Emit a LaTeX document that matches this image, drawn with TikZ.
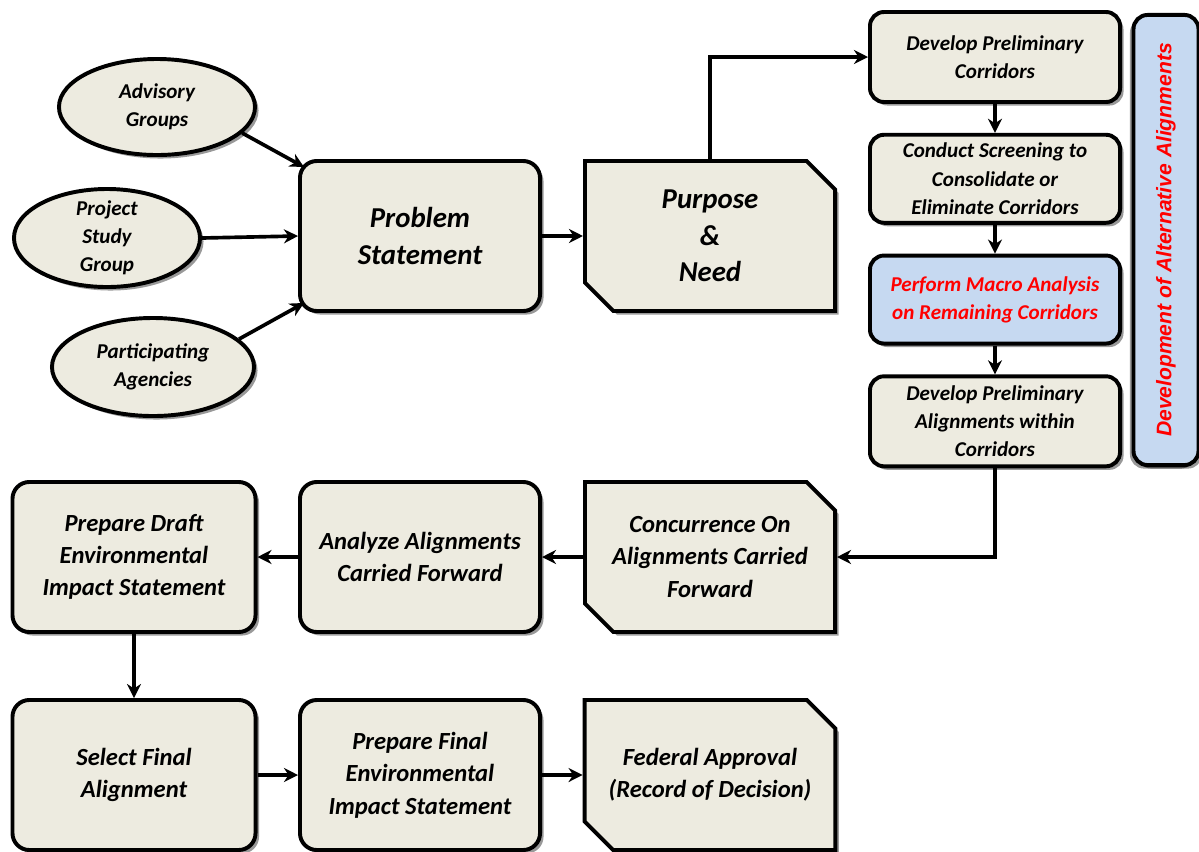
\documentclass[tikz,border=0pt]{standalone}
\usepackage{fontspec}
\setmainfont{Carlito}
\newfontfamily\barfont{Liberation Sans}
\usetikzlibrary{arrows.meta,shapes.geometric,shapes.misc,positioning,shadows,calc}

\definecolor{boxfill}{HTML}{EDEBE0}
\definecolor{macrofill}{HTML}{C6D9F1}
\definecolor{macrored}{HTML}{FF0000}

\begin{document}
\begin{tikzpicture}[
    x=0.025cm,y=-0.025cm,
    base/.style={draw,line width=2.8pt,fill=boxfill,align=center,text=black,
        drop shadow={shadow xshift=2.5pt,shadow yshift=-2.5pt,opacity=0.4,fill=black}},
    bigbox/.style={base,rectangle,rounded corners=12pt,minimum width=6cm,minimum height=3.75cm,
        font=\fontsize{17.5}{23}\selectfont\bfseries\itshape},
    cutbox/.style={base,chamfered rectangle,chamfered rectangle corners={north east,south west},
        chamfered rectangle xsep=0.6cm,inner xsep=0pt,minimum width=6.25cm,minimum height=3.75cm,
        font=\fontsize{17.5}{23}\selectfont\bfseries\itshape},
    stepbox/.style={base,rectangle,rounded corners=10pt,minimum width=6.25cm,minimum height=2.2cm,
        font=\fontsize{15}{20}\selectfont\bfseries\itshape},
    group/.style={base,ellipse,inner xsep=0pt,inner ysep=-10pt,
        font=\fontsize{15}{20}\selectfont\bfseries\itshape},
    arrow/.style={line width=2.6pt,-{Stealth[length=10pt,width=10pt]}}
]
    \useasboundingbox (0,0) rectangle (1199,851);

    % input groups
    \node[group,minimum width=4.9cm,minimum height=2.4cm] (adv) at (157,107) {Advisory\\Groups};
    \node[group,minimum width=4.65cm,minimum height=2.45cm] (psg) at (107,238) {Project\\Study\\Group};
    \node[group,minimum width=5.05cm,minimum height=2.45cm] (agen) at (153,367) {Participating\\Agencies};

    \node[bigbox,font=\fontsize{20.5}{26}\selectfont\bfseries\itshape] (prob) at (420,236) {Problem\\Statement};
    \node[cutbox,font=\fontsize{20.5}{26}\selectfont\bfseries\itshape] (purp) at (710,236) {Purpose\\\&\\Need};

    \draw[arrow] (adv.-17) -- ($(prob.north west)+(6,8)$);
    \draw[arrow] (psg.east) -- (prob.west);
    \draw[arrow] (agen.18) -- ($(prob.south west)+(6,-10)$);
    \draw[arrow] (prob) -- (purp);

    % corridor steps
    \node[stepbox,minimum height=2.25cm] (dpc) at (995,57) {Develop Preliminary\\Corridors};
    \node[stepbox,below=0.72cm of dpc] (scr) {Conduct Screening to\\Consolidate or\\Eliminate Corridors};
    \node[stepbox,below=0.72cm of scr,fill=macrofill,text=macrored] (macro) {Perform Macro Analysis\\on Remaining Corridors};
    \node[stepbox,below=0.72cm of macro,minimum height=2.25cm] (dpa) {Develop Preliminary\\Alignments within\\Corridors};
    \draw[arrow] (purp.north) |- (dpc.west);
    \draw[arrow] (dpc) -- (scr);
    \draw[arrow] (scr) -- (macro);
    \draw[arrow] (macro) -- (dpa);

    \node[base,fill=macrofill,rounded corners=10pt,rotate=90,minimum width=11.25cm,minimum height=1.625cm,
        text=macrored,font=\barfont\fontsize{15}{18}\selectfont\bfseries\itshape,
        drop shadow={shadow xshift=-2.5pt,shadow yshift=-2.5pt,opacity=0.4,fill=black}] (alt) at (1166,240)
        {Development of Alternative Alignments};

    % alignments
    \node[cutbox] (conc) at (710,557) {Concurrence On\\Alignments Carried\\Forward};
    \node[bigbox] (anal) at (420,557) {Analyze Alignments\\Carried Forward};
    \node[bigbox,minimum width=6.075cm] (draft) at (134,557) {Prepare Draft\\Environmental\\Impact Statement};
    \draw[arrow] (dpa.south) |- (conc.east);
    \draw[arrow] (conc) -- (anal);
    \draw[arrow] (anal) -- (draft);

    % final steps
    \node[bigbox,minimum width=6.075cm] (sel) at (134,775) {Select Final\\Alignment};
    \node[bigbox] (pfin) at (420,775) {Prepare Final\\Environmental\\Impact Statement};
    \node[cutbox] (fed) at (710,775) {Federal Approval\\(Record of Decision)};
    \draw[arrow] (draft) -- (sel);
    \draw[arrow] (sel) -- (pfin);
    \draw[arrow] (pfin) -- (fed);
\end{tikzpicture}
\end{document}
